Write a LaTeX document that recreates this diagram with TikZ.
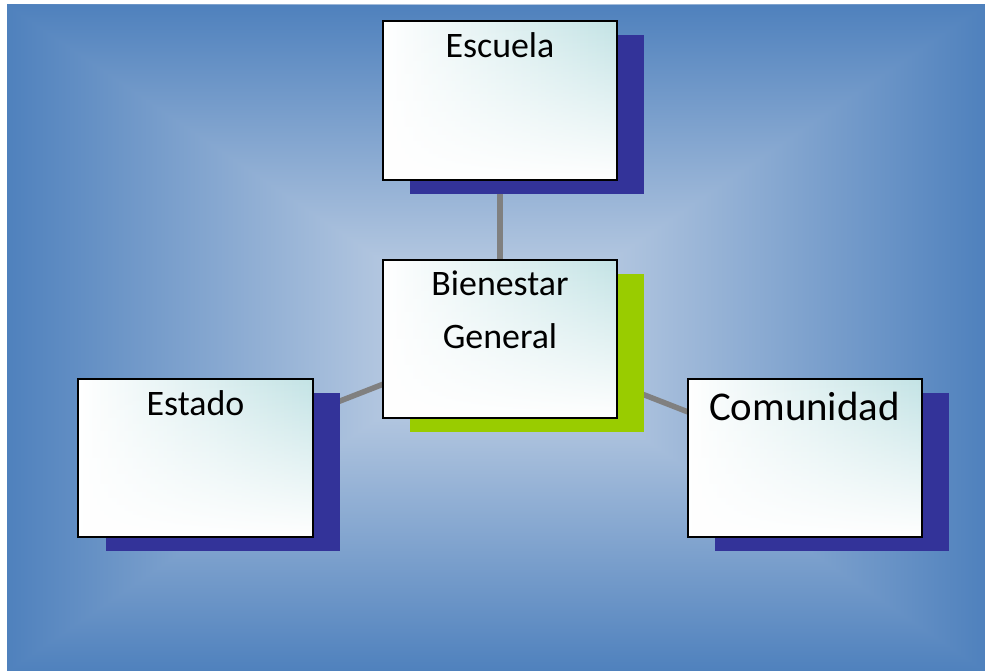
\documentclass[tikz,border=0pt]{standalone}
\usepackage{fontspec}
\setmainfont{Carlito}
\usetikzlibrary{shadows,fadings,calc}
\definecolor{edgeblue}{RGB}{79,129,189}
\definecolor{midblue}{RGB}{165,185,217}
\definecolor{ctrblue}{RGB}{208,219,234}
\definecolor{boxteal}{RGB}{195,227,229}
\definecolor{shblue}{RGB}{51,51,153}
\definecolor{shgreen}{RGB}{153,204,0}
\definecolor{conngray}{RGB}{128,128,128}
\tikzfading[name=fadebottom, top color=transparent!100, middle color=transparent!60, bottom color=transparent!0]
\pgfdeclarelayer{bg}\pgfdeclarelayer{back}\pgfsetlayers{bg,back,main}
\tikzset{
  box/.style={draw=black, line width=2bp, minimum width=234bp, minimum height=158bp,
    inner sep=0pt, left color=white, right color=boxteal,
    path picture={\fill[white, path fading=fadebottom]
      (path picture bounding box.south west) rectangle (path picture bounding box.north east);}},
  blueshadow/.style={general shadow={fill=shblue, shadow xshift=27bp, shadow yshift=-14bp}},
  greenshadow/.style={general shadow={fill=shgreen, shadow xshift=27bp, shadow yshift=-14bp}},
  lbl/.style={inner sep=0pt, text=black, font=\fontsize{36}{53}\selectfont},
  biglbl/.style={inner sep=0pt, text=black, font=\fontsize{41}{50}\selectfont},
  conn/.style={draw=conngray, line width=5.5bp}
}
\begin{document}
\begin{tikzpicture}[x=1bp, y=-1bp]
\useasboundingbox (0,0) rectangle (985,671);
\begin{pgfonlayer}{bg}
  \fill[white] (0,0) rectangle (985,671);
  \shade[left color=edgeblue, middle color=midblue, right color=ctrblue] (7,5) rectangle (496,671);
  \shade[left color=ctrblue, middle color=midblue, right color=edgeblue] (496,5) rectangle (985,671);
  \shade[top color=edgeblue, middle color=midblue, bottom color=ctrblue] (7,5) -- (985,5) -- (496,338) -- cycle;
  \shade[top color=ctrblue, middle color=midblue, bottom color=edgeblue] (7,671) -- (985,671) -- (496,338) -- cycle;
\end{pgfonlayer}

\node[box, blueshadow] (esc) at (500,100.5) {};
\node[box, greenshadow] (bien) at (500,338.5) {};
\node[box, blueshadow] (est) at (195.5,457.5) {};
\node[box, blueshadow] (com) at (804.5,457.5) {};

\begin{pgfonlayer}{back}
  \draw[conn] (bien.center) -- (esc.center);
  \draw[conn] (bien.center) -- (est.center);
  \draw[conn] (bien.center) -- (com.center);
\end{pgfonlayer}

\node[lbl, anchor=base] (escT) at ($(esc.north)+(0,37)$) {Escuela};
\node[lbl, anchor=base, align=center] (bienT) at ($(bien.north)+(0,90)$) {Bienestar\\General};
\node[lbl, anchor=base] (estT) at ($(est.north)+(0,37.5)$) {Estado};
\node[biglbl, anchor=base] (comT) at ($(com.north)+(0,43)$) {Comunidad};
\end{tikzpicture}
\end{document}
